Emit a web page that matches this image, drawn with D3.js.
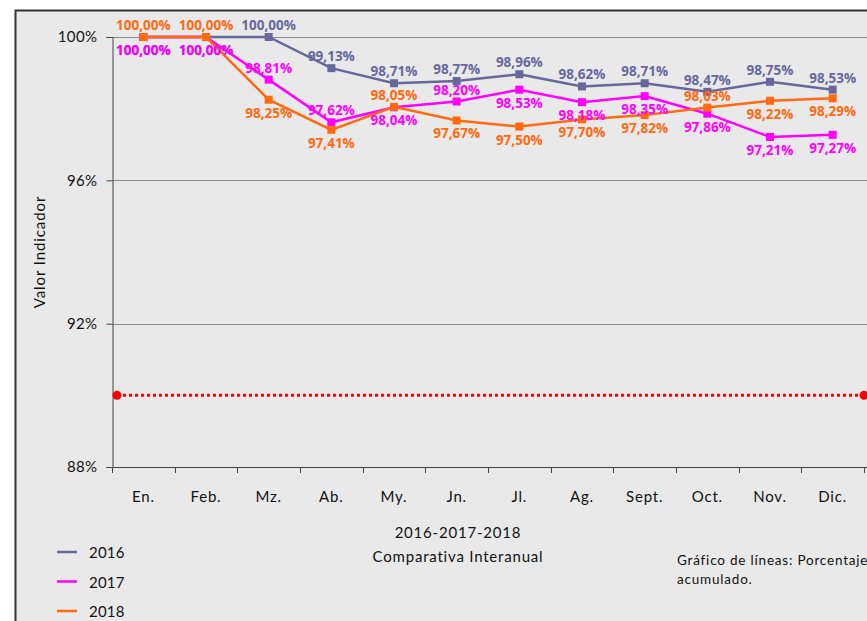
<!DOCTYPE html>
<html>
<head>
<meta charset="utf-8">
<script src="https://cdn.jsdelivr.net/npm/d3@7"></script>
<style>
body{margin:0;background:#fff;}
svg{display:block;font-family:Lato,"Open Sans",sans-serif;}
</style>
</head>
<body>
<div class="chart"></div>
<script>
// data
var months = ["En.","Feb.","Mz.","Ab.","My.","Jn.","Jl.","Ag.","Sept.","Oct.","Nov.","Dic."];
var years = ["2016","2017","2018"];
var v2016 = [100,100,100,99.13,98.71,98.77,98.96,98.62,98.71,98.47,98.75,98.53];
var v2017 = [100,100,98.81,97.62,98.04,98.20,98.53,98.18,98.35,97.86,97.21,97.27];
var v2018 = [100,100,98.25,97.41,98.05,97.67,97.50,97.70,97.82,98.03,98.22,98.29];
var target = 90;
var yTicks = [88,92,96,100];

var colors = {"2016":"#67679c","2017":"#ff00ff","2018":"#ff6a10"};
// a = label above point, b = below
var sides = {
  "2016":["b","b","a","a","a","a","a","a","a","a","a","a"],
  "2017":["b","b","a","a","b","a","b","b","b","b","b","b"],
  "2018":["a","a","b","b","a","b","b","b","b","a","b","b"]
};
var series = [
  {name:"2016", values:v2016},
  {name:"2017", values:v2017},
  {name:"2018", values:v2018}
];

var W = 867, H = 621;
var svg = d3.select("div.chart").append("svg")
  .attr("width", W).attr("height", H);

// panel
svg.append("rect")
  .attr("x", 15.5).attr("y", 10.5)
  .attr("width", W + 10).attr("height", H + 10)
  .attr("fill", "#e9e9e9")
  .attr("stroke", "#333").attr("stroke-width", 2);

var x = d3.scaleBand().domain(months).range([112, 864]);
var y = d3.scaleLinear().domain([88,100]).range([467, 37]);

// grid
svg.selectAll(".grid")
  .data(yTicks.filter(function(d){ return d > 88; }))
  .enter().append("line")
    .attr("x1", 112).attr("x2", W)
    .attr("y1", function(d){ return Math.round(y(d)) + 0.5; })
    .attr("y2", function(d){ return Math.round(y(d)) + 0.5; })
    .attr("stroke", "#8a8a8a").attr("stroke-width", 1);

// y axis
var yAxis = svg.append("g")
  .attr("transform", "translate(112.5,0)")
  .call(d3.axisLeft(y).tickValues(yTicks).tickSize(6).tickPadding(9)
    .tickFormat(function(d){ return d + "%"; }));
yAxis.select(".domain").attr("stroke", "#444");
yAxis.selectAll(".tick line").attr("stroke", "#444");
yAxis.selectAll("text").attr("font-size", 15).attr("fill", "#111")
  .attr("letter-spacing", 0.4)
  .attr("font-family", "Lato, sans-serif");

// x axis
var xAxis = svg.append("g")
  .attr("transform", "translate(0," + (Math.round(y(88)) + 0.5) + ")")
  .call(d3.axisBottom(x).tickSize(0).tickPadding(24));
xAxis.select(".domain").attr("stroke", "#444").attr("d", "M112,0H" + W);
xAxis.selectAll("text").attr("font-size", 15).attr("fill", "#111")
  .attr("letter-spacing", 0.8)
  .attr("font-family", "Lato, sans-serif");
svg.append("g").selectAll("line")
  .data(months.concat(["end"]))
  .enter().append("line")
    .attr("x1", function(d, i){ return Math.round(112 + i * x.step()) + 0.5; })
    .attr("x2", function(d, i){ return Math.round(112 + i * x.step()) + 0.5; })
    .attr("y1", y(88)).attr("y2", y(88) + 6)
    .attr("stroke", "#444");

// target line
var tx = [x.range()[0] + 5, x.range()[1]];
svg.append("line")
  .attr("x1", tx[0]).attr("x2", tx[1])
  .attr("y1", y(target)).attr("y2", y(target))
  .attr("stroke", "#ff0000").attr("stroke-width", 3)
  .attr("stroke-dasharray", "3,3");
svg.selectAll(".tdot").data(tx).enter().append("circle")
  .attr("cx", function(d){ return d; }).attr("cy", y(target))
  .attr("r", 4.5).attr("fill", "#ff0000");

// series lines
var line = d3.line()
  .x(function(d, i){ return x(months[i]) + x.bandwidth() / 2; })
  .y(function(d){ return y(d); });

var fmt = function(v){ return v.toFixed(2).replace(".", ",") + "%"; };

series.forEach(function(s){
  svg.append("path")
    .datum(s.values)
    .attr("d", line)
    .attr("fill", "none")
    .attr("stroke", colors[s.name])
    .attr("stroke-width", 2.5);
  svg.selectAll(".m" + s.name).data(s.values).enter().append("rect")
    .attr("x", function(d, i){ return x(months[i]) + x.bandwidth() / 2 - 4; })
    .attr("y", function(d){ return y(d) - 4; })
    .attr("width", 8).attr("height", 8)
    .attr("fill", colors[s.name]);
});

series.forEach(function(s){
  svg.selectAll(".l" + s.name).data(s.values).enter().append("text")
    .attr("x", function(d, i){ return x(months[i]) + x.bandwidth() / 2; })
    .attr("y", function(d, i){ return y(d) + (sides[s.name][i] == "a" ? -7 : 18); })
    .attr("text-anchor", "middle")
    .attr("font-size", 13.5).attr("font-weight", "bold")
    .attr("font-family", "'Open Sans', sans-serif")
    .attr("fill", colors[s.name])
    .text(function(d){ return fmt(d); });
});

// y title
svg.append("text")
  .attr("transform", "translate(45,252) rotate(-90)")
  .attr("text-anchor", "middle")
  .attr("font-size", 15).attr("letter-spacing", 0.9).attr("fill", "#111")
  .text("Valor Indicador");

// x titles
svg.append("text").attr("x", 458).attr("y", 538)
  .attr("text-anchor", "middle").attr("font-size", 15)
  .attr("letter-spacing", 0.8).attr("fill", "#111")
  .text("2016-2017-2018");
svg.append("text").attr("x", 458).attr("y", 562)
  .attr("text-anchor", "middle").attr("font-size", 15)
  .attr("letter-spacing", 0.8).attr("fill", "#111")
  .text("Comparativa Interanual");

// legend
var leg = svg.selectAll(".leg").data(years).enter().append("g")
  .attr("transform", function(d, i){ return "translate(57," + (552 + i * 29.5) + ")"; });
leg.append("line").attr("x1", 0).attr("x2", 20)
  .attr("stroke", function(d){ return colors[d]; }).attr("stroke-width", 2.5);
leg.append("text").attr("x", 32).attr("y", 6)
  .attr("font-size", 15).attr("letter-spacing", 0.2).attr("fill", "#111")
  .text(function(d){ return d; });

// note
svg.append("text").attr("x", 677).attr("y", 565)
  .attr("font-size", 13.5).attr("letter-spacing", 0.8).attr("fill", "#111")
  .text("Gráfico de líneas: Porcentaje");
svg.append("text").attr("x", 677).attr("y", 584)
  .attr("font-size", 13.5).attr("letter-spacing", 0.8).attr("fill", "#111")
  .text("acumulado.");
</script>
</body>
</html>
